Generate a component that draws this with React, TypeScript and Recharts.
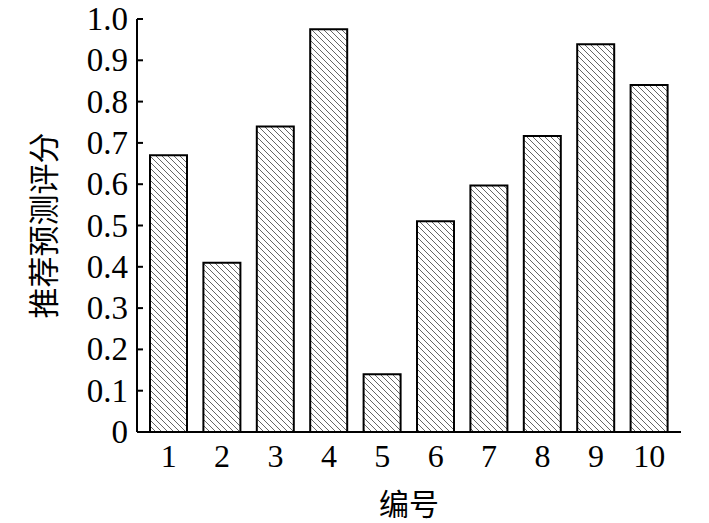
import React from "react";
import { BarChart, Bar, XAxis, YAxis } from "recharts";

const categories = ["1", "2", "3", "4", "5", "6", "7", "8", "9", "10"];
const scores = [0.67, 0.41, 0.74, 0.975, 0.14, 0.51, 0.597, 0.717, 0.939, 0.84];
const yTicks = [0, 0.1, 0.2, 0.3, 0.4, 0.5, 0.6, 0.7, 0.8, 0.9, 1.0];
const yTickLabels = ["0", "0.1", "0.2", "0.3", "0.4", "0.5", "0.6", "0.7", "0.8", "0.9", "1.0"];
const xTitle = "编号";
const yTitle = "推荐预测评分";

const data = categories.map((c, i) => ({ name: c, score: scores[i] }));

const NUM_FONT = "'Liberation Serif', 'Times New Roman', serif";
const CJK_FONT = "'Noto Sans CJK SC', sans-serif";

const YTick = (props: any) => {
  const { x, y, payload, index } = props;
  const axisX = x; // tickSize 0, tickMargin 0
  return (
    <g>
      <line x1={axisX} x2={axisX + 6} y1={y} y2={y} stroke="#000" strokeWidth={2} />
      <text
        x={axisX - 9}
        y={y + 11}
        textAnchor="end"
        fontFamily={NUM_FONT}
        fontSize={33}
        fill="#000"
      >
        {yTickLabels[yTicks.indexOf(payload.value)] ?? yTickLabels[index]}
      </text>
    </g>
  );
};

const XTick = (props: any) => {
  const { x, y, payload } = props;
  return (
    <text x={x} y={y + 35} textAnchor="middle" fontFamily={NUM_FONT} fontSize={32} fill="#000">
      {payload.value}
    </text>
  );
};

export default function App() {
  return (
    <div style={{ position: "absolute", left: 0, top: 0, width: 709, height: 523, background: "#fff" }}>
      <svg width={0} height={0} style={{ position: "absolute" }}>
        <defs>
          <pattern id="hatch" patternUnits="userSpaceOnUse" width={6} height={6}>
            <rect x={0} y={0} width={6} height={6} fill="#fff" />
            <path d="M-1,-1 L7,7 M-1,5 L1,7 M5,-1 L7,1" stroke="#666" strokeWidth={1} />
          </pattern>
        </defs>
      </svg>
      <BarChart
        width={709}
        height={523}
        data={data}
        margin={{ top: 19, right: 28, bottom: 0, left: 0 }}
        barCategoryGap={8}
      >
        <XAxis
          xAxisId="bottom"
          dataKey="name"
          orientation="bottom"
          height={91}
          padding={{ left: 5, right: 5 }}
          axisLine={{ stroke: "#000", strokeWidth: 2 }}
          tickLine={false}
          tickSize={0}
          tickMargin={0}
          tick={<XTick />}
          interval={0}
          label={{
            value: xTitle,
            position: "insideBottom",
            offset: 8,
            fontFamily: CJK_FONT,
            fontSize: 30,
            fill: "#000",
          }}
        />
        <XAxis
          xAxisId="top"
          dataKey="name"
          orientation="top"
          height={0}
          axisLine={{ stroke: "#000", strokeWidth: 2 }}
          tick={false}
          tickLine={false}
        />
        <YAxis
          yAxisId="left"
          width={137}
          domain={[0, 1]}
          ticks={yTicks}
          interval={0}
          axisLine={{ stroke: "#000", strokeWidth: 2 }}
          tickLine={false}
          tickSize={0}
          tickMargin={0}
          tick={<YTick />}
          label={{
            value: yTitle,
            angle: -90,
            position: "insideLeft",
            offset: 44,
            fontFamily: CJK_FONT,
            fontSize: 31,
            fill: "#000",
            style: { textAnchor: "middle" },
          }}
        />
        <YAxis
          yAxisId="right"
          orientation="right"
          width={0}
          domain={[0, 1]}
          axisLine={{ stroke: "#000", strokeWidth: 2 }}
          tick={false}
          tickLine={false}
        />
        <Bar
          dataKey="score"
          xAxisId="bottom"
          yAxisId="left"
          fill="url(#hatch)"
          stroke="#000"
          strokeWidth={2}
          isAnimationActive={false}
        />
      </BarChart>
    </div>
  );
}
